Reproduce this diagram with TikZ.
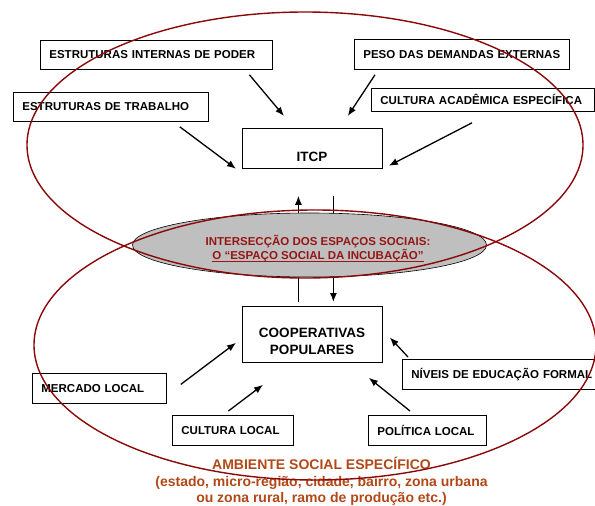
\documentclass[tikz,border=0pt]{standalone}
\usepackage{fontspec}
\setmainfont{Liberation Sans}
\usetikzlibrary{shapes.geometric,arrows.meta}
\definecolor{vinho}{RGB}{139,8,8}
\definecolor{vinhotexto}{RGB}{150,22,22}
\definecolor{ferrugem}{RGB}{178,72,24}
\newcommand{\sublinha}[1]{\setbox0\hbox{#1}\rlap{\rule[-2.6pt]{\wd0}{1.1pt}}\box0}
\begin{document}
\begin{tikzpicture}[x=1pt, y=-1pt,
    caixa/.style={draw, line width=0.8pt, anchor=north west, inner xsep=9pt, inner ysep=0pt,
      align=left, font=\fontsize{11.5}{13}\selectfont\bfseries},
    rotulo/.style={align=center, font=\fontsize{13.5}{17}\selectfont\bfseries},
    seta/.style={-{Latex[length=9pt,width=7pt]}, line width=1.3pt}]
  \useasboundingbox (0,0) rectangle (595,506);

  % Caixas do espaco da ITCP
  \node[caixa, minimum height=29pt, text width=214pt] (poder) at (40,40) {ESTRUTURAS INTERNAS DE PODER};
  \node[caixa, minimum height=29pt, text width=177pt] (trabalho) at (13,92) {ESTRUTURAS DE TRABALHO};
  \node[caixa, minimum height=30pt, text width=197pt] (peso) at (354,39) {PESO DAS DEMANDAS EXTERNAS};
  \node[caixa, minimum height=23pt, text width=205pt] (academica) at (371,88) {CULTURA ACADÊMICA ESPECÍFICA};
  \node[caixa, minimum height=40pt, text width=122pt] (itcp) at (242,128) {};
  \node[rotulo] (itcptexto) at (312,157) {ITCP};

  % Caixas do ambiente das cooperativas
  \node[caixa, minimum height=56pt, text width=122pt] (coop) at (242,306) {};
  \node[rotulo] (cooptexto) at (312,341.5) {COOPERATIVAS\\POPULARES};
  \node[caixa, minimum height=30pt, text width=116pt] (mercado) at (32,373) {MERCADO LOCAL};
  \node[caixa, minimum height=30pt, text width=103pt] (culturalocal) at (172,415) {CULTURA LOCAL};
  \node[caixa, minimum height=30pt, text width=190pt] (educacao) at (402,359) {NÍVEIS DE EDUCAÇÃO FORMAL};
  \node[caixa, minimum height=30pt, text width=100pt] (politica) at (368,415) {POLÍTICA LOCAL};
  \node[align=center, text=ferrugem, font=\fontsize{14}{16.5}\selectfont\bfseries] (ambiente) at (321.5,481.5)
    {AMBIENTE SOCIAL ESPECÍFICO\\(estado, micro-região, cidade, bairro, zona urbana\\ou zona rural, ramo de produção etc.)};

  % Setas
  \draw[seta] ([xshift=93pt,yshift=-5pt]poder.south) -- ([xshift=42pt,yshift=12pt]itcp.north west);
  \draw[seta] ([xshift=-29pt,yshift=-5pt]trabalho.south east) -- ([xshift=-6pt]itcp.south west);
  \draw[seta] ([xshift=21pt,yshift=-5pt]peso.south west) -- ([xshift=-35pt,yshift=12pt]itcp.north east);
  \draw[seta] ([xshift=101pt,yshift=-11pt]academica.south west) -- ([xshift=6pt,yshift=3pt]itcp.south east);
  \draw[seta] ([xshift=-14pt,yshift=4pt]coop.north) -- ([xshift=-14pt,yshift=-27pt]itcp.south);
  \draw[seta] ([xshift=21pt,yshift=-27pt]itcp.south) -- ([xshift=21pt,yshift=4pt]coop.north);
  \draw[seta] ([xshift=14pt,yshift=4pt]mercado.east) -- ([xshift=-6pt,yshift=20pt]coop.south west);
  \draw[seta] ([xshift=-4.5pt,yshift=4pt]culturalocal.north) -- ([xshift=21pt,yshift=-22pt]coop.south west);
  \draw[seta] ([xshift=6pt,yshift=2pt]educacao.north west) -- ([xshift=7pt,yshift=-3pt]coop.east);
  \draw[seta] ([xshift=42pt,yshift=4pt]politica.north west) -- ([xshift=-14pt,yshift=-15pt]coop.south east);

  % Intersecao
  \node[ellipse, draw, line width=0.6pt, fill=gray!50, minimum width=354pt, minimum height=64pt] (intersecao) at (309.5,245) {};
  \node[align=center, text=vinhotexto, font=\fontsize{11.5}{14}\selectfont\bfseries] (intersecaotexto) at (318,249)
    {INTERSECÇÃO DOS ESPAÇOS SOCIAIS:\\\sublinha{O “ESPAÇO SOCIAL DA INCUBAÇÃO”}};

  % Espacos sociais
  \draw[vinho, line width=1.4pt] (305,145) ellipse [x radius=278pt, y radius=133pt];
  \draw[vinho, line width=1.4pt] (315,345) ellipse [x radius=281pt, y radius=135pt];
\end{tikzpicture}
\end{document}
